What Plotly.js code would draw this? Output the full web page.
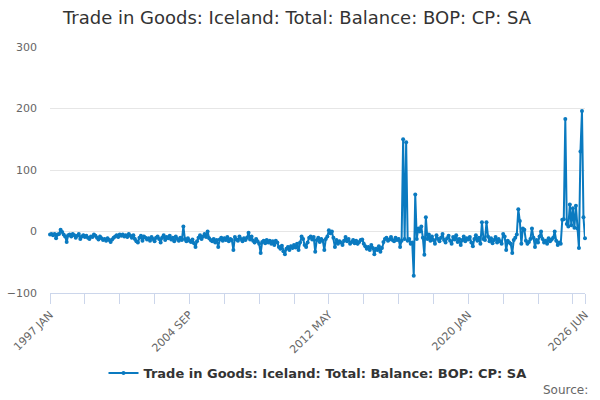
<!DOCTYPE html>
<html>
<head>
<meta charset="utf-8">
<script src="https://cdn.plot.ly/plotly-3.0.1.min.js"></script>
<style>html,body{margin:0;padding:0;background:#fff;}#chart{width:600px;height:400px;}</style>
</head>
<body>
<div id="chart"></div>
<script>
const seriesName = "Trade in Goods: Iceland: Total: Balance: BOP: CP: SA";
const startYear = 1997;
const monthNames = ["JAN","FEB","MAR","APR","MAY","JUN","JUL","AUG","SEP","OCT","NOV","DEC"];

const v1997 = [-5,-4,-6,-4,-11,-5,-4,3,-1,-5,-8,-17];
const v1998 = [-6,-5,-8,-4,-6,-10,-7,-4,-12,-8,-6,-9];
const v1999 = [-7,-10,-12,-8,-9,-5,-7,-10,-13,-8,-11,-14];
const v2000 = [-12,-15,-11,-14,-17,-13,-10,-8,-6,-9,-5,-7];
const v2001 = [-5,-8,-6,-9,-4,-7,-10,-6,-12,-16,-18,-10];
const v2002 = [-7,-15,-8,-10,-13,-11,-15,-9,-12,-16,-10,-8];
const v2003 = [-12,-18,-10,-6,-14,-9,-11,-7,-13,-10,-16,-8];
const v2004 = [-12,-15,-10,-14,8,-12,-16,-11,-15,-17,-13,-19];
const v2005 = [-25,-16,-10,-6,-12,-8,-4,-9,0,-11,-14,-16];
const v2006 = [-12,-18,-14,-25,-13,-10,-15,-11,-14,-9,-16,-12];
const v2007 = [-14,-30,-9,-13,-15,-8,-12,-16,-11,-14,-10,-2];
const v2008 = [-13,-8,-15,-18,-12,-16,-20,-35,-17,-15,-19,-14];
const v2009 = [-18,-15,-20,-16,-22,-15,-18,-25,-28,-23,-32,-37];
const v2010 = [-28,-25,-30,-24,-27,-22,-26,-20,-30,-18,-8,-12];
const v2011 = [-22,-25,-18,-10,-8,-13,-9,-33,-14,-10,-17,-12];
const v2012 = [-15,-30,-12,-8,2,-3,0,-10,-25,-14,-20,-16];
const v2013 = [-18,-22,-15,-9,-16,-12,-20,-17,-14,-19,-15,-20];
const v2014 = [-17,-14,-13,-20,-24,-28,-25,-30,-22,-27,-37,-28];
const v2015 = [-30,-24,-33,-27,-17,-12,-10,-15,-13,-9,-14,-16];
const v2016 = [-10,-14,-12,-25,-15,150,-12,145,-15,-12,-20,-18];
const v2017 = [-72,60,-12,5,0,8,-10,-38,23,-12,-5,-15];
const v2018 = [-8,-14,-20,-6,-12,-16,-10,-4,-14,-18,-11,-7];
const v2019 = [-15,-20,-9,-13,-6,-17,-12,-22,-14,-8,-16,-11];
const v2020 = [-13,-9,-18,-24,-12,-6,-15,-10,-20,15,-12,-14];
const v2021 = [15,-8,-16,-11,-19,-14,-9,-18,-12,-16,-20,-4];
const v2022 = [-8,-30,-15,-18,-20,-35,-14,-10,-5,36,17,-20];
const v2023 = [5,3,-15,-20,-17,-12,5,-10,-25,-14,-18,-8];
const v2024 = [0,-12,-18,-15,-20,-11,-16,-13,-10,0,-15,-22];
const v2025 = [-18,-20,19,20,183,12,8,44,10,38,6,42];
const v2026 = [5,-27,130,196,23,-11];

const yearly = [v1997,v1998,v1999,v2000,v2001,v2002,v2003,v2004,v2005,v2006,v2007,v2008,v2009,v2010,v2011,v2012,v2013,v2014,v2015,v2016,v2017,v2018,v2019,v2020,v2021,v2022,v2023,v2024,v2025,v2026];

const categories = [];
const values = [];
yearly.forEach((arr, yi) => {
  arr.forEach((v, mi) => {
    categories.push((startYear + yi) + " " + monthNames[mi]);
    values.push(v);
  });
});

const tickStep = 23;
const tickVals = [];
const tickText = [];
for (let i = 0; i < categories.length - 1; i += tickStep) {
  tickVals.push(categories[i]);
  tickText.push(i % (tickStep * 4) === 0 ? categories[i] : "");
}
tickVals.push(categories[categories.length - 1]);
tickText.push(categories[categories.length - 1]);

const lineColor = "#0a7ac0";

const trace = {
  x: categories,
  y: values,
  type: "scatter",
  mode: "lines+markers",
  name: seriesName,
  line: {color: lineColor, width: 2},
  marker: {color: lineColor, size: 4},
  cliponaxis: false,
  hoverinfo: "skip"
};

const layout = {
  width: 600,
  height: 400,
  paper_bgcolor: "#fff",
  plot_bgcolor: "#fff",
  font: {family: "DejaVu Sans, sans-serif", color: "#666"},
  margin: {l: 50, r: 15, t: 47, b: 107},
  title: {
    text: seriesName,
    font: {family: "DejaVu Sans, sans-serif", size: 18, color: "#333"},
    x: 0.495, xanchor: "center", y: 0.955, yanchor: "middle"
  },
  xaxis: {
    type: "category",
    range: [0, categories.length - 1],
    tickmode: "array",
    tickvals: tickVals,
    ticktext: tickText,
    tickangle: -45,
    ticks: "outside",
    ticklen: 10,
    tickcolor: "#ccd6eb",
    tickwidth: 1,
    showline: true,
    linecolor: "#ccd6eb",
    linewidth: 1,
    showgrid: false,
    zeroline: false,
    tickfont: {size: 11, color: "#666"},
    fixedrange: true
  },
  yaxis: {
    range: [-100, 300],
    tickvals: [-100, 0, 100, 200, 300],
    showgrid: true,
    gridcolor: "#e6e6e6",
    gridwidth: 1,
    zeroline: false,
    showline: false,
    ticks: "",
    ticklabelstandoff: 12,
    tickfont: {size: 11, color: "#666"},
    fixedrange: true
  },
  showlegend: true,
  legend: {
    orientation: "h",
    x: 0.5, xanchor: "center",
    y: -0.325, yanchor: "middle",
    font: {family: "DejaVu Sans, sans-serif", size: 13, color: "#333", weight: "bold"},
    itemwidth: 30
  },
  annotations: [{
    text: "Source:",
    xref: "paper", yref: "paper",
    x: 1.01, xanchor: "right",
    y: -0.395, yanchor: "middle",
    showarrow: false,
    font: {size: 12, color: "#666"}
  }]
};

Plotly.newPlot("chart", [trace], layout, {displayModeBar: false, staticPlot: true});
</script>
</body>
</html>
